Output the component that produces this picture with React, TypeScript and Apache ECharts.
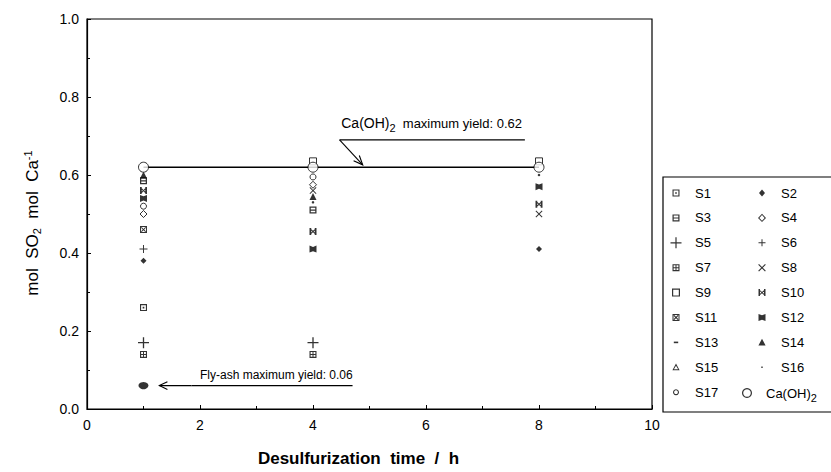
import React, { useEffect, useRef } from 'react';
import * as echarts from 'echarts';

// ---------- data ----------
const HOURS = [1, 4, 8];
const X_TICKS = [0, 2, 4, 6, 8, 10];
const Y_TICKS = [0, 0.2, 0.4, 0.6, 0.8, 1.0];

const S1 = [0.26, null, null];
const S2 = [0.38, null, 0.41];
const S3 = [0.585, 0.51, null];
const S4 = [0.5, 0.575, null];
const S5 = [0.17, 0.17, null];
const S6 = [0.41, null, null];
const S7 = [0.14, 0.14, null];
const S8 = [null, 0.56, 0.5];
const S9 = [null, 0.635, 0.635];
const S10 = [0.56, 0.455, 0.525];
const S11 = [0.46, null, null];
const S12 = [0.54, 0.41, 0.57];
const S13 = [0.06, null, null];
const S14 = [0.6, 0.545, null];
const S15 = [null, null, null];
const S16 = [null, 0.53, 0.6];
const S17 = [0.52, 0.595, null];
const CAOH2 = [0.62, 0.62, 0.62];

const LEGEND_LEFT = ['S1', 'S3', 'S5', 'S7', 'S9', 'S11', 'S13', 'S15', 'S17'];
const LEGEND_RIGHT = ['S2', 'S4', 'S6', 'S8', 'S10', 'S12', 'S14', 'S16'];
const LEGEND_LAST = ['Ca(OH)2'];

const CA_MAX = 0.62;
const FLY_MAX = 0.06;

// ---------- symbols (style only) ----------
const P_PLUS = 'path://M4.4,0H5.6V4.4H10V5.6H5.6V10H4.4V5.6H0V4.4H4.4Z';
const P_CROSS = 'path://M1,0L5,4L9,0L10,1L6,5L10,9L9,10L5,6L1,10L0,9L4,5L0,1Z';
const P_BOWTIE = 'path://M0,0H2.5V10H0Z M7.5,0H10V10H7.5Z M2,1L5,4L8,1L9,2L6,5L9,8L8,9L5,6L2,9L1,8L4,5L1,2Z';
const P_BOWFILL = 'path://M0,0L5,2L10,0L10,10L5,8L0,10Z';
const P_SQDOT = 'path://M0,0H10V10H0Z M1.6,1.6V8.4H8.4V1.6Z M3.8,3.8H6.2V6.2H3.8Z';
const P_SQBAR = 'path://M0,0H10V10H0Z M1.8,1.8V4.2H8.2V1.8Z M1.8,5.8V8.2H8.2V5.8Z';
const P_SQGRID = 'path://M0,0H10V10H0Z M1.6,1.6V4.3H4.3V1.6Z M5.7,1.6V4.3H8.4V1.6Z M1.6,5.7V8.4H4.3V5.7Z M5.7,5.7V8.4H8.4V5.7Z';
const P_SQX = 'path://M0,0H10V10H0Z M1.4,1.4V8.6H8.6V1.4Z M1.4,2.4L2.4,1.4L5,4L7.6,1.4L8.6,2.4L6,5L8.6,7.6L7.6,8.6L5,6L2.4,8.6L1.4,7.6L4,5Z';

// legend icons inside a fixed 20x12 frame (leading moveTo points keep the frame)
const F = 'M0,0M20,12';
const ICONS: Record<string, string> = {
  S1: `path://${F}M2.5,2.5H9.5V9.5H2.5Z M3.6,3.6V8.4H8.4V3.6Z M5.2,5.2H6.8V6.8H5.2Z`,
  S2: `path://${F}M6,2.5L9,6L6,9.5L3,6Z`,
  S3: `path://${F}M2.5,2.5H9.5V9.5H2.5Z M3.7,3.7V5.5H8.3V3.7Z M3.7,6.5V8.3H8.3V6.5Z`,
  S4: `path://${F}M6,1.8L10,6L6,10.2L2,6Z M6,3.2L3.4,6L6,8.8L8.6,6Z`,
  S5: `path://${F}M5.4,0.5H6.6V5.4H11.5V6.6H6.6V11.5H5.4V6.6H0.5V5.4H5.4Z`,
  S6: `path://${F}M5.5,2.5H6.5V5.5H9.5V6.5H6.5V9.5H5.5V6.5H2.5V5.5H5.5Z`,
  S7: `path://${F}M2.5,2.5H9.5V9.5H2.5Z M3.6,3.6V5.5H5.5V3.6Z M6.5,3.6V5.5H8.4V3.6Z M3.6,6.5V8.4H5.5V6.5Z M6.5,6.5V8.4H8.4V6.5Z`,
  S8: `path://${F}M3,2.2L6,5.2L9,2.2L9.8,3L6.8,6L9.8,9L9,9.8L6,6.8L3,9.8L2.2,9L5.2,6L2.2,3Z`,
  S9: `path://${F}M2,2H10V10H2Z M3.2,3.2V8.8H8.8V3.2Z`,
  S10: `path://${F}M2.5,2.5H4V9.5H2.5Z M8,2.5H9.5V9.5H8Z M3.5,3L6,5.3L8.5,3L9,3.8L6.7,6L9,8.2L8.5,9L6,6.7L3.5,9L3,8.2L5.3,6L3,3.8Z`,
  S11: `path://${F}M2.5,2.5H9.5V9.5H2.5Z M3.5,3.5V8.5H8.5V3.5Z M3.5,4.3L4.3,3.5L6,5.2L7.7,3.5L8.5,4.3L6.8,6L8.5,7.7L7.7,8.5L6,6.8L4.3,8.5L3.5,7.7L5.2,6Z`,
  S12: `path://${F}M2.5,2.5L6,3.8L9.5,2.5L9.5,9.5L6,8.2L2.5,9.5Z`,
  S13: `path://${F}M3.8,5.2H8.2V6.8H3.8Z`,
  S14: `path://${F}M6,2.3L9.6,9H2.4Z`,
  S15: `path://${F}M6,2.3L9.6,9H2.4Z M6,4.4L3.9,8H8.1Z`,
  S16: `path://${F}M5.3,5.3H6.7V6.7H5.3Z`,
  S17: `path://${F}M6,3A3,3,0,1,1,5.99,3Z M6,4.1A1.9,1.9,0,1,0,6.01,4.1Z`,
  'Ca(OH)2': `path://${F}M6,1A5,5,0,1,1,5.99,1Z M6,2.2A3.8,3.8,0,1,0,6.01,2.2Z`,
};

const FONT = 'Liberation Sans';

function pts(vals: (number | null)[]) {
  const out: number[][] = [];
  vals.forEach((v, i) => {
    if (v !== null) out.push([HOURS[i], v]);
  });
  return out;
}

function sc(name: string, vals: (number | null)[], symbol: string, size: any, hollow: boolean) {
  return {
    type: 'scatter',
    name,
    data: pts(vals),
    symbol,
    symbolSize: size,
    itemStyle: hollow
      ? { color: '#fff', borderColor: '#000', borderWidth: 1 }
      : { color: '#000', borderWidth: 0 },
    z: 4,
  };
}

export default function App() {
  const ref = useRef<HTMLDivElement>(null);

  useEffect(() => {
    if (!ref.current) return;
    const chart = echarts.init(ref.current, null, { renderer: 'svg' });

    const legendText = {
      fontFamily: FONT,
      fontSize: 13,
      color: '#000',
      rich: {
        a: { fontFamily: FONT, fontSize: 13, color: '#000' },
        s: { fontFamily: FONT, fontSize: 11, color: '#000', padding: [9, 0, 0, 0] },
      },
    };
    const legendItems = (names: string[]) =>
      names.map((n) => ({
        name: n,
        icon: ICONS[n],
        itemStyle: { color: '#000', borderWidth: 0 },
      }));
    const legendCommon = {
      orient: 'vertical',
      top: 181.5,
      itemGap: 11.9,
      itemWidth: 20,
      itemHeight: 12,
      selectedMode: false,
      textStyle: legendText,
      formatter: (n: string) => (n === 'Ca(OH)2' ? '{a|Ca(OH)}{s|2}' : n),
    };

    const option: any = {
      animation: false,
      backgroundColor: '#fff',
      grid: {
        left: 87,
        right: 179,
        top: 19,
        bottom: 60,
        show: true,
        borderColor: '#000',
        borderWidth: 1.2,
      },
      xAxis: {
        type: 'value',
        min: X_TICKS[0],
        max: X_TICKS[X_TICKS.length - 1],
        interval: 2,
        name: 'Desulfurization  time  /  h',
        nameLocation: 'middle',
        nameGap: 41,
        nameTextStyle: {
          fontFamily: FONT,
          fontSize: 17,
          fontWeight: 'bold',
          color: '#000',
          padding: [0, 22, 0, 0],
        },
        axisLine: { show: true, lineStyle: { color: '#000', width: 1.2 } },
        axisTick: { show: true, inside: true, length: 4, lineStyle: { color: '#000' } },
        minorTick: { show: true, splitNumber: 2, length: 3, lineStyle: { color: '#000' } },
        axisLabel: { fontFamily: FONT, fontSize: 14, color: '#000', margin: 9 },
        splitLine: { show: false },
      },
      yAxis: {
        type: 'value',
        min: Y_TICKS[0],
        max: Y_TICKS[Y_TICKS.length - 1],
        interval: 0.2,
        name: '{a|mol  SO}{s|2}{a|  mol  Ca}{p|-1}',
        nameLocation: 'middle',
        nameRotate: 90,
        nameGap: 45,
        nameTextStyle: {
          color: '#000',
          padding: [0, 18, 0, 0],
          rich: {
            a: { fontFamily: FONT, fontSize: 17, color: '#000' },
            s: { fontFamily: FONT, fontSize: 11, color: '#000', padding: [9, 0, 0, 0] },
            p: { fontFamily: FONT, fontSize: 11, color: '#000', padding: [0, 0, 9, 0] },
          },
        },
        axisLine: { show: true, lineStyle: { color: '#000', width: 1.2 } },
        axisTick: { show: true, inside: true, length: 4, lineStyle: { color: '#000' } },
        minorTick: { show: true, splitNumber: 2, length: 3, lineStyle: { color: '#000' } },
        axisLabel: {
          fontFamily: FONT,
          fontSize: 14,
          color: '#000',
          margin: 8,
          formatter: (v: number) => v.toFixed(1),
        },
        splitLine: { show: false },
      },
      legend: [
        { ...legendCommon, left: 665, data: legendItems(LEGEND_LEFT) },
        { ...legendCommon, left: 751, data: legendItems(LEGEND_RIGHT) },
        { ...legendCommon, left: 736, top: 381.5, data: legendItems(LEGEND_LAST) },
      ],
      series: [
        {
          type: 'line',
          name: 'line',
          data: pts(CAOH2),
          symbol: 'none',
          lineStyle: { color: '#000', width: 1.4 },
          z: 2,
          silent: true,
        },
        sc('S1', S1, P_SQDOT, 7, false),
        sc('S2', S2, 'diamond', 6, false),
        sc('S3', S3, P_SQBAR, 7, false),
        sc('S4', S4, 'diamond', 7, true),
        sc('S5', S5, P_PLUS, 11, false),
        sc('S6', S6, P_PLUS, 8, false),
        sc('S7', S7, P_SQGRID, 7, false),
        sc('S8', S8, P_CROSS, 7, false),
        sc('S9', S9, 'rect', 7, true),
        sc('S10', S10, P_BOWTIE, 7, false),
        sc('S11', S11, P_SQX, 7, false),
        sc('S12', S12, P_BOWFILL, 7, false),
        sc('S13', S13, 'circle', [10, 7], false),
        sc('S14', S14, 'triangle', 7, false),
        sc('S15', S15, 'triangle', 7, true),
        sc('S16', S16, 'circle', 2.5, false),
        sc('S17', S17, 'circle', 6, true),
        sc('Ca(OH)2', CAOH2, 'circle', 10, true),
      ],
    };
    chart.setOption(option);

    // ---- annotations positioned through the axes ----
    const px = (x: number, y: number) => chart.convertToPixel({ gridIndex: 0 }, [x, y]) as number[];
    const head = (tip: number[], from: number[], len: number, ang: number) => {
      const dx = from[0] - tip[0];
      const dy = from[1] - tip[1];
      const d = Math.hypot(dx, dy) || 1;
      const ux = dx / d, uy = dy / d;
      const rot = (a: number) => [
        tip[0] + len * (ux * Math.cos(a) - uy * Math.sin(a)),
        tip[1] + len * (ux * Math.sin(a) + uy * Math.cos(a)),
      ];
      return [rot(ang), tip, rot(-ang)];
    };

    const caTextP = px(4.5, 0.733);
    const caUL0 = px(4.47, 0.69);
    const caUL1 = px(7.75, 0.69);
    const caTip = px(4.88, CA_MAX + 0.006);

    const flyTextP = px(2.0, 0.088);
    const flyUL0 = px(1.85, FLY_MAX);
    const flyUL1 = px(4.7, FLY_MAX);
    const flyTip = px(1.28, FLY_MAX);

    const ls = { stroke: '#000', lineWidth: 1.1, fill: 'none' };

    chart.setOption({
      graphic: [
        {
          type: 'text',
          x: caTextP[0],
          y: caTextP[1],
          style: {
            text: '{a|Ca(OH)}{s|2}{b|  maximum yield: 0.62}',
            verticalAlign: 'middle',
            rich: {
              a: { fontFamily: FONT, fontSize: 14, fill: '#000' },
              s: { fontFamily: FONT, fontSize: 11, fill: '#000', padding: [9, 0, 0, 0] },
              b: { fontFamily: FONT, fontSize: 13, fill: '#000' },
            },
          },
        },
        { type: 'line', shape: { x1: caUL0[0], y1: caUL0[1], x2: caUL1[0], y2: caUL1[1] }, style: ls },
        { type: 'line', shape: { x1: caUL0[0], y1: caUL0[1], x2: caTip[0], y2: caTip[1] }, style: ls },
        { type: 'polyline', shape: { points: head(caTip, caUL0, 10, 0.4) }, style: ls },
        {
          type: 'text',
          x: flyTextP[0],
          y: flyTextP[1],
          style: {
            text: 'Fly-ash maximum yield: 0.06',
            fontFamily: FONT,
            fontSize: 12,
            fill: '#000',
            verticalAlign: 'middle',
          },
        },
        { type: 'line', shape: { x1: flyUL0[0], y1: flyUL0[1], x2: flyUL1[0], y2: flyUL1[1] }, style: ls },
        { type: 'line', shape: { x1: flyUL0[0], y1: flyUL0[1], x2: flyTip[0], y2: flyTip[1] }, style: ls },
        { type: 'polyline', shape: { points: head(flyTip, flyUL0, 9, 0.45) }, style: ls },
        {
          type: 'rect',
          shape: { x: 663, y: 177, width: 200, height: 235 },
          style: { stroke: '#000', lineWidth: 1.2, fill: 'none' },
          z: -1,
        },
      ],
    });

    return () => chart.dispose();
  }, []);

  return (
    <div
      ref={ref}
      style={{ position: 'fixed', left: 0, top: 0, width: 831, height: 472, background: '#fff' }}
    />
  );
}
